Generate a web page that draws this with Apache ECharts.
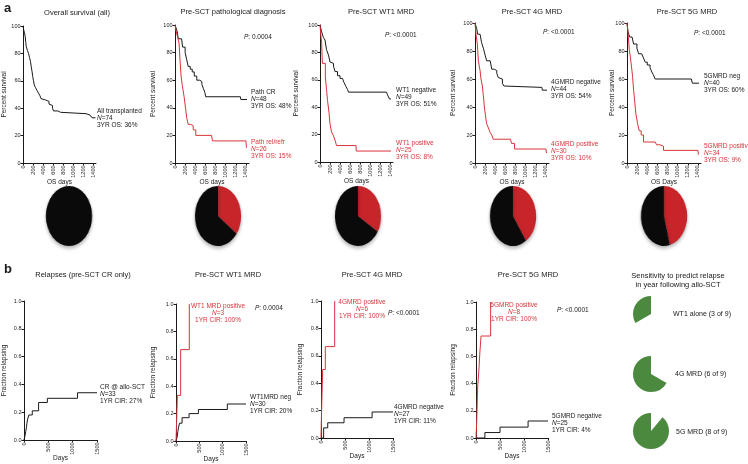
<!DOCTYPE html>
<html><head><meta charset="utf-8">
<script src="https://cdn.jsdelivr.net/npm/echarts@6/dist/echarts.min.js"></script>
<style>
html,body{margin:0;padding:0;background:#fff;overflow:hidden;}
#main{position:absolute;left:0;top:0;width:748px;height:464px;}
#pies{position:absolute;left:0;top:0;height:464px;transform-origin:0 0;pointer-events:none;}
</style></head><body>
<div id="main"></div><div id="pies"></div>
<script>
// ---------- tick labels ----------
const survivalTicks = [0, 20, 40, 60, 80, 100];
const osDayTicks = [0, 200, 400, 600, 800, 1000, 1200, 1400];
const fractionTicks = [0, 0.2, 0.4, 0.6, 0.8, 1.0];
const relapseDayTicks = [0, 500, 1000, 1500];

// ---------- panel a: overall survival (%), [day, percent] ----------
const osAll = [[0,100],[15,97],[30,95],[45,92],[55,88],[65,85],[90,82],[110,80],[130,77],[150,74],[165,70],[180,67],[195,63],[210,60],[225,57],[250,55],[280,53],[310,51],[340,49],[360,47],[380,46],[450,45],[520,43],[560,42],[590,40],[610,38],[700,37],[750,36],[1260,36],[1290,35],[1340,34],[1380,33],[1450,33]];
const osPathCR = [[0,100],[20,98],[45,95],[65,90],[130,89],[150,84],[200,80],[230,75],[260,70],[300,68],[340,66],[380,63],[430,60],[490,59],[530,57],[560,54],[590,51],[605,48],[1290,48],[1300,46],[1420,46]];
const osPathRel = [[0,100],[20,96],[45,92],[80,87],[100,74],[120,63],[145,56],[180,48],[210,39],[230,33],[260,28],[310,27],[360,24],[410,20],[720,20],[740,16],[1400,16],[1410,11],[1420,11]];
const osWT1Neg = [[0,100],[33,95],[67,91],[100,89],[130,82],[170,78],[200,73],[230,72],[270,70],[300,66],[350,63],[400,61],[450,60],[480,58],[520,55],[550,53],[570,51],[1330,51],[1350,49],[1390,46],[1420,46]];
const osWT1Pos = [[0,100],[13,94],[33,87],[47,72],[87,72],[107,62],[130,53],[150,45],[180,36],[200,28],[230,22],[270,19],[300,16],[330,12],[720,12],[725,8],[1420,8]];
const os4GNeg = [[0,100],[33,96],[53,92],[100,91],[130,86],[165,82],[200,77],[230,73],[300,72],[330,67],[380,66],[430,64],[460,61],[490,60],[540,57],[570,55],[590,54],[1320,54],[1330,52],[1420,52]];
const os4GPos = [[0,100],[20,92],[46,85],[66,73],[100,66],[118,60],[145,55],[165,48],[185,40],[210,33],[230,28],[265,25],[295,22],[330,20],[360,17],[700,17],[720,14],[780,10],[1400,10],[1410,7],[1420,7]];
const os5GNeg = [[0,100],[20,94],[52,90],[100,89],[130,85],[195,82],[230,78],[290,77],[325,75],[360,72],[400,70],[455,68],[490,65],[520,63],[555,60],[1270,60],[1290,57],[1420,57]];
const os5GPos = [[0,100],[20,93],[45,81],[65,76],[85,70],[110,62],[130,52],[150,45],[175,35],[210,28],[240,23],[280,20],[325,15],[555,15],[585,13],[650,12],[720,9],[1400,9],[1410,6],[1420,6]];

// ---------- panel b: cumulative incidence of relapse, [day, fraction] ----------
const cirCR = [[0,0],[20,0.03],[35,0.06],[50,0.09],[60,0.12],[75,0.15],[100,0.18],[170,0.21],[300,0.27],[480,0.30],[1100,0.34],[1500,0.34]];
const cirWT1Pos = [[0,0],[30,0.333],[100,0.667],[285,1.0]];
const cirWT1Neg = [[0,0],[25,0.03],[40,0.07],[55,0.10],[75,0.13],[130,0.17],[280,0.20],[480,0.23],[1100,0.27],[1500,0.27]];
const cir4GPos = [[0,0],[10,0.167],[35,0.5],[90,0.667],[285,1.0]];
const cir4GNeg = [[0,0],[55,0.074],[140,0.111],[480,0.148],[1065,0.19],[1500,0.19]];
const cir5GPos = [[0,0],[15,0.125],[35,0.375],[60,0.5],[80,0.625],[105,0.75],[305,1.0]];
const cir5GNeg = [[0,0],[185,0.04],[500,0.08],[1085,0.125],[1500,0.125]];

// ---------- pies ----------
const pieGroups = ['All', 'Path', 'WT1', '4G', '5G'];
const piePositive = [0, 26, 25, 30, 34];
const pieNegative = [74, 48, 49, 44, 40];
const sensLabels = ['WT1 alone (3 of 9)', '4G MRD (6 of 9)', '5G MRD (8 of 9)'];
const sensDetected = [3, 6, 8];
const sensTotal = [9, 9, 9];

// ---------- styling / layout ----------
const FONT = 'Liberation Sans, Arial, sans-serif';
const BLACK = '#1a1a1a';
const RED = '#d8343a';
const GREEN = '#4b8a3e';

const gridsA = [
  {left:23, top:26, width:73, height:137, nameGap:15, xname:'OS days'},
  {left:175, top:25, width:74, height:138, nameGap:18, xname:'OS days'},
  {left:320, top:25, width:73, height:137, nameGap:20, xname:'OS days'},
  {left:475, top:23, width:74, height:140, nameGap:18, xname:'OS days'},
  {left:627, top:23, width:74, height:140, nameGap:11, xname:'OS Days'}
];
const gridsB = [
  {left:23, top:301, width:74, height:139, nameGap:16},
  {left:176, top:304, width:70, height:137, nameGap:19},
  {left:321, top:301, width:72, height:137, nameGap:17},
  {left:476, top:302, width:72, height:136, nameGap:19}
];

const axisLineStyle = {show:true, lineStyle:{color:BLACK, width:1}};
const tickStyle = {show:true, length:2.5, lineStyle:{color:BLACK, width:1}};
const labStyle = {fontSize:5.5, color:'#222', fontFamily:FONT};
const nameStyle = {fontSize:6.5, color:'#222', fontFamily:FONT};

const grid = [], xAxis = [], yAxis = [], series = [];
gridsA.forEach((g, i) => {
  grid.push({left:g.left, top:g.top, width:g.width, height:g.height});
  xAxis.push({type:'value', gridIndex:i, min:0, max:1460, splitLine:{show:false},
    axisLine:axisLineStyle, axisTick:Object.assign({customValues:osDayTicks}, tickStyle),
    axisLabel:Object.assign({customValues:osDayTicks, rotate:90, margin:2.5, formatter:v => String(v)}, labStyle),
    name:g.xname, nameLocation:'middle', nameGap:16, nameMoveOverlap:false, nameTextStyle:nameStyle});
  yAxis.push({type:'value', gridIndex:i, min:0, max:100, interval:20, splitLine:{show:false},
    axisLine:axisLineStyle, axisTick:tickStyle,
    axisLabel:Object.assign({margin:2.5, formatter:v => String(v)}, labStyle),
    name:'Percent survival', nameLocation:'middle', nameGap:g.nameGap, nameMoveOverlap:false, nameTextStyle:nameStyle});
});
gridsB.forEach((g, j) => {
  const i = j + 5;
  grid.push({left:g.left, top:g.top, width:g.width, height:g.height});
  xAxis.push({type:'value', gridIndex:i, min:0, max:1500, splitLine:{show:false},
    axisLine:axisLineStyle, axisTick:Object.assign({customValues:relapseDayTicks}, tickStyle),
    axisLabel:Object.assign({customValues:relapseDayTicks, rotate:90, margin:2.5, formatter:v => String(v)}, labStyle),
    name:'Days', nameLocation:'middle', nameGap:15, nameMoveOverlap:false, nameTextStyle:nameStyle});
  yAxis.push({type:'value', gridIndex:i, min:0, max:1, interval:0.2, splitLine:{show:false},
    axisLine:axisLineStyle, axisTick:tickStyle,
    axisLabel:Object.assign({margin:2.5, formatter:v => v.toFixed(1)}, labStyle),
    name:'Fraction relapsing', nameLocation:'middle', nameGap:g.nameGap, nameMoveOverlap:false, nameTextStyle:nameStyle});
});

function km(data, idx, color) {
  series.push({type:'line', step:'end', xAxisIndex:idx, yAxisIndex:idx, data:data,
    symbol:'none', silent:true, animation:false, lineStyle:{color:color, width:1}});
}
km(osAll, 0, BLACK);
km(osPathCR, 1, BLACK); km(osPathRel, 1, RED);
km(osWT1Neg, 2, BLACK); km(osWT1Pos, 2, RED);
km(os4GNeg, 3, BLACK); km(os4GPos, 3, RED);
km(os5GNeg, 4, BLACK); km(os5GPos, 4, RED);
km(cirCR, 5, BLACK);
km(cirWT1Neg, 6, BLACK); km(cirWT1Pos, 6, RED);
km(cir4GNeg, 7, BLACK); km(cir4GPos, 7, RED);
km(cir5GNeg, 8, BLACK); km(cir5GPos, 8, RED);

// sensitivity pies (green)
const sensCenters = [[651,314],[651,374],[651,431]];
sensDetected.forEach((d, k) => {
  series.push({type:'pie', center:sensCenters[k], radius:18, startAngle:90, clockwise:false,
    silent:true, animation:false, label:{show:false}, labelLine:{show:false},
    data:[{name:sensLabels[k], value:d, itemStyle:{color:GREEN}},
          {name:'missed', value:sensTotal[k]-d, itemStyle:{color:'rgba(0,0,0,0)'}}]});
});

// ---------- text ----------
const rich = (col, size) => ({i:{fontStyle:'italic', fontSize:size, fill:col, fontFamily:FONT}});
function txt(x, y, text, opts) {
  opts = opts || {};
  const col = opts.fill || '#1a1a1a';
  const size = opts.size || 6.5;
  return {type:'text', x:x, y:y, silent:true, style:{text:text, fill:col, fontFamily:FONT,
    fontSize:size, lineHeight:opts.lh || 6.8, fontWeight:opts.weight || 'normal',
    align:opts.align || 'left', verticalAlign:opts.va || 'top', rich:rich(col, size)}};
}
const graphic = [
  txt(4, 2, 'a', {size:13, weight:'bold', lh:13}),
  txt(4, 263, 'b', {size:13, weight:'bold', lh:13}),
  txt(77, 9, 'Overall survival (all)', {size:7.5, align:'center', lh:8}),
  txt(233, 8, 'Pre-SCT pathological diagnosis', {size:7.5, align:'center', lh:8}),
  txt(381, 8, 'Pre-SCT WT1 MRD', {size:7.5, align:'center', lh:8}),
  txt(532, 8, 'Pre-SCT 4G MRD', {size:7.5, align:'center', lh:8}),
  txt(687, 8, 'Pre-SCT 5G MRD', {size:7.5, align:'center', lh:8}),
  txt(97, 108, 'All transplanted\n{i|N}=74\n3YR OS: 36%'),
  txt(244, 34, '{i|P}: 0.0004'),
  txt(251, 89, 'Path CR\n{i|N}=48\n3YR OS: 48%'),
  txt(251, 139, 'Path rel/refr\n{i|N}=26\n3YR OS: 15%', {fill:RED}),
  txt(385, 32, '{i|P}: <0.0001'),
  txt(396, 87, 'WT1 negative\n{i|N}=49\n3YR OS: 51%'),
  txt(396, 140, 'WT1 positive\n{i|N}=25\n3YR OS: 8%', {fill:RED}),
  txt(543, 29, '{i|P}: <0.0001'),
  txt(551, 79, '4GMRD negative\n{i|N}=44\n3YR OS: 54%'),
  txt(551, 141, '4GMRD positive\n{i|N}=30\n3YR OS: 10%', {fill:RED}),
  txt(694, 30, '{i|P}: <0.0001'),
  txt(704, 73, '5GMRD neg\n{i|N}=40\n3YR OS: 60%'),
  txt(704, 143, '5GMRD positive\n{i|N}=34\n3YR OS: 9%', {fill:RED}),
  txt(83, 271, 'Relapses (pre-SCT CR only)', {size:7.5, align:'center', lh:8}),
  txt(228, 271, 'Pre-SCT WT1 MRD', {size:7.5, align:'center', lh:8}),
  txt(372, 271, 'Pre-SCT 4G MRD', {size:7.5, align:'center', lh:8}),
  txt(528, 271, 'Pre-SCT 5G MRD', {size:7.5, align:'center', lh:8}),
  txt(678, 271, 'Sensitivity to predict relapse\nin year following allo-SCT', {size:7.5, align:'center', lh:9.5}),
  txt(100, 384, 'CR @ allo-SCT\n{i|N}=33\n1YR CIR: 27%'),
  txt(218, 303, 'WT1 MRD positive\n{i|N}=3\n1YR CIR: 100%', {fill:RED, align:'center'}),
  txt(255, 305, '{i|P}: 0.0004'),
  txt(250, 394, 'WT1MRD neg\n{i|N}=30\n1YR CIR: 20%'),
  txt(362, 299, '4GMRD positive\n{i|N}=6\n1YR CIR: 100%', {fill:RED, align:'center'}),
  txt(388, 310, '{i|P}: <0.0001'),
  txt(394, 404, '4GMRD negative\n{i|N}=27\n1YR CIR: 11%'),
  txt(514, 302, '5GMRD positive\n{i|N}=8\n1YR CIR: 100%', {fill:RED, align:'center'}),
  txt(557, 307, '{i|P}: <0.0001'),
  txt(552, 413, '5GMRD negative\n{i|N}=25\n1YR CIR: 4%'),
  txt(673, 311, sensLabels[0], {size:7}),
  txt(675, 371, sensLabels[1], {size:7}),
  txt(676, 429, sensLabels[2], {size:7})
];

const main = echarts.init(document.getElementById('main'), null, {renderer:'canvas'});
main.setOption({animation:false, backgroundColor:'#fff', textStyle:{fontFamily:FONT},
  grid:grid, xAxis:xAxis, yAxis:yAxis, series:series, graphic:graphic});

// ---------- top pies: elliptical (squeezed horizontally) ----------
const SX = 0.77;
const pieCentersX = [69, 218, 358, 513, 664];
const pieCenterY = 216;
const pieDiv = document.getElementById('pies');
pieDiv.style.width = (748 / SX) + 'px';
pieDiv.style.transform = 'scaleX(' + SX + ')';
const pieChart = echarts.init(pieDiv, null, {renderer:'canvas'});
pieChart.setOption({animation:false,
  series: pieGroups.map((g, k) => ({type:'pie', center:[pieCentersX[k] / SX, pieCenterY], radius:30,
    startAngle:90, clockwise:true, silent:true, label:{show:false}, labelLine:{show:false},
    itemStyle:{shadowBlur:4, shadowOffsetY:2, shadowColor:'rgba(0,0,0,0.35)'},
    data:[{name:g + ' positive', value:piePositive[k], itemStyle:{color:'#c8252b'}},
          {name:g + ' negative', value:pieNegative[k], itemStyle:{color:'#0a0a0a'}}]}))
});
</script>
</body></html>
